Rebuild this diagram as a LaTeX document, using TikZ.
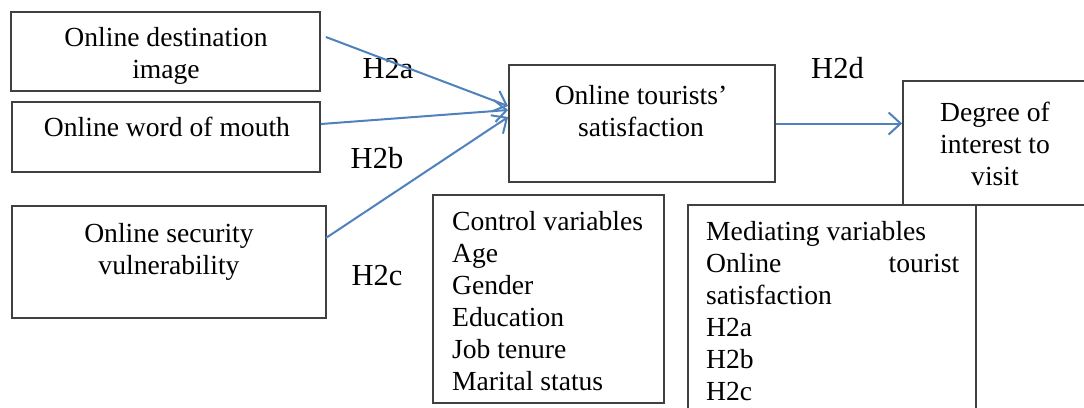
\documentclass[tikz,border=0pt]{standalone}
\usepackage{fontspec}
\setmainfont{Liberation Serif}
\usepackage{tikz}
\usetikzlibrary{
    arrows.meta,
    calc,
    positioning
}
\definecolor{linkblue}{HTML}{4F81BD}
\definecolor{boxgray}{HTML}{404040}

\begin{document}
\begin{tikzpicture}[x=1pt, y=-1pt,
                        box/.style={draw=boxgray, line width=1.8pt, inner sep=0pt},
                        txt/.style={font=\fontsize{27.6pt}{32pt}\selectfont, inner sep=0pt, align=center},
                        listtxt/.style={font=\fontsize{27.6pt}{32pt}\selectfont, inner sep=0pt, align=left, anchor=north west},
                        hyp/.style={font=\fontsize{30.5pt}{34pt}\selectfont, inner sep=0pt, anchor=base},
                        link/.style={draw=linkblue, line width=2pt, -{Straight Barb[length=12pt, width=22pt, line width=2pt]}}]
                        \clip (0, 0) rectangle (1084, 407);
                        \fill[white] (0, 0) rectangle (1084, 407);
                        \node[box, minimum width=309, minimum height=79] (img) at (165.5, 51.5) {};
                        \node[box, minimum width=308, minimum height=70] (wom) at (166, 137) {};
                        \node[box, minimum width=314, minimum height=112] (sec) at (169, 262) {};
                        \node[box, minimum width=266, minimum height=117] (sat) at (642, 123.5) {};
                        \node[box, minimum width=187, minimum height=124] (intr) at (996.5, 143) {};
                        \node[box, minimum width=231, minimum height=208] (ctrl) at (548.5, 299) {};
                        \node[box, minimum width=288, minimum height=225] (med) at (832, 317.5) {};
                        \node[txt] (imgtxt) at (166, 55.5) {Online destination\\image};
                        \node[txt, anchor=base] (womtxt) at (167, 136) {Online word of mouth};
                        \node[txt] (sectxt) at (169, 252) {Online security\\vulnerability};
                        \node[txt] (sattxt) at (641, 111) {Online tourists'\\satisfaction};
                        \node[txt] (intrtxt) at (995, 144) {Degree of\\interest to\\visit};
                        \node[listtxt] (ctrltxt) at (452, 211) {Control variables\\Age\\Gender\\Education\\Job tenure\\Marital status};
                        \node[listtxt] (medtxt) at (706, 221) {Mediating variables\\\makebox[253pt][s]{Online tourist}\\satisfaction\\H2a\\H2b\\H2c};
                        \node[hyp] (h2a) at (388, 78) {H2a};
                        \node[hyp] (h2b) at (377, 168) {H2b};
                        \node[hyp] (h2c) at (377, 285) {H2c};
                        \node[hyp] (h2d) at (837.5, 78) {H2d};
                        \draw[link] ([xshift=5pt, yshift=14.5pt]img.east) -- ([yshift=17.5pt]sat.west);
                        \draw[link] ([yshift=13pt]wom.east) -- ([yshift=13.5pt]sat.west);
                        \draw[link] ([xshift=-1pt, yshift=24pt]sec.east) -- ([yshift=6.5pt]sat.west);
                        \draw[link] (sat.east) -- (sat.east -| intr.west);
                    \end{tikzpicture}
\end{document}
